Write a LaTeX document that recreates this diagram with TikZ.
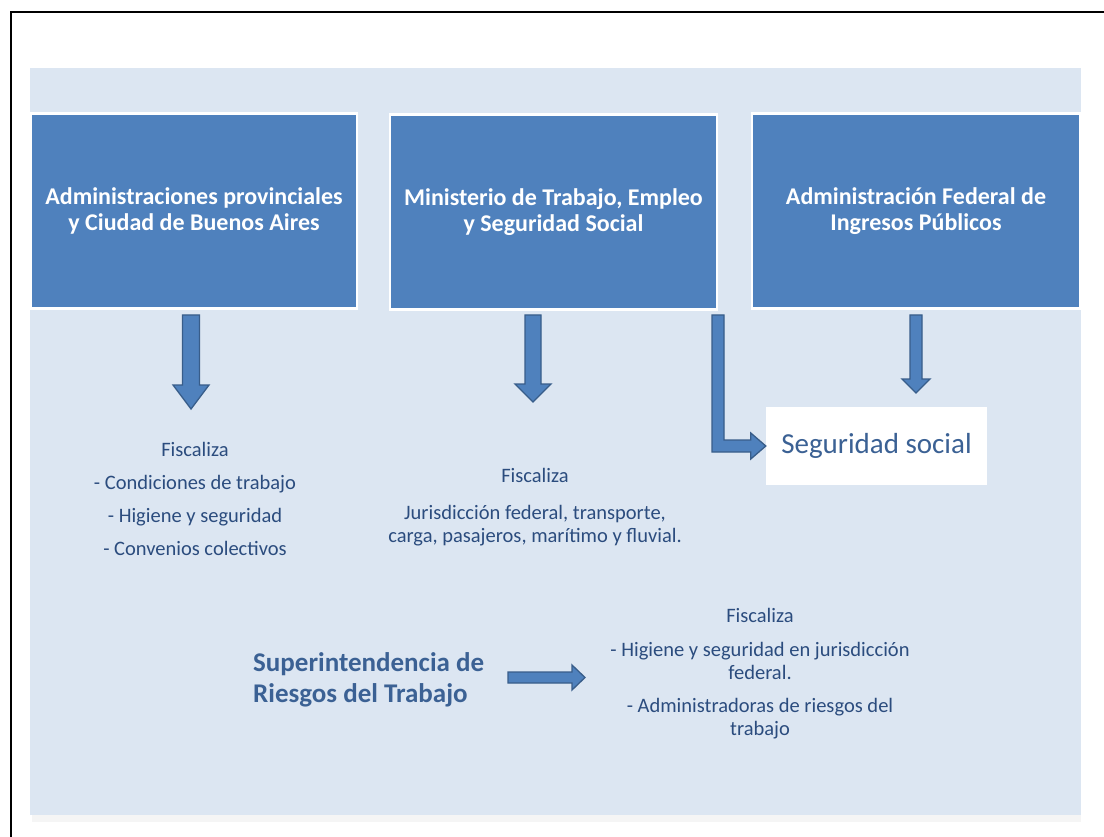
\documentclass[tikz,border=0pt]{standalone}
\usepackage{fontspec}
\setmainfont{Carlito}
\usetikzlibrary{calc}
\definecolor{panel}{HTML}{DCE6F2}
\definecolor{boxblue}{HTML}{4F81BD}
\definecolor{arrowline}{HTML}{385D8A}
\definecolor{txtblue}{HTML}{2B4C7E}
\definecolor{headblue}{HTML}{3B6194}
% vertical block arrow: #1 start, #2 tip, #3 half shaft, #4 half head, #5 head length
\newcommand\vblockarrow[5]{%
  \draw[barrow] ($(#1)+(-#3,0)$) -- ($(#2)+(-#3,-#5)$) -- ($(#2)+(-#4,-#5)$) -- (#2)
    -- ($(#2)+(#4,-#5)$) -- ($(#2)+(#3,-#5)$) -- ($(#1)+(#3,0)$) -- cycle;}
% horizontal block arrow (to the right)
\newcommand\hblockarrow[5]{%
  \draw[barrow] ($(#1)+(0,-#3)$) -- ($(#2)+(-#5,-#3)$) -- ($(#2)+(-#5,-#4)$) -- (#2)
    -- ($(#2)+(-#5,#4)$) -- ($(#2)+(-#5,#3)$) -- ($(#1)+(0,#3)$) -- cycle;}
\begin{document}
\begin{tikzpicture}[x=1pt,y=-1pt,
  topbox/.style={draw=white, line width=2.5pt, fill=boxblue, text=white,
    font=\fontsize{24}{26.5}\selectfont\bfseries, align=center, inner sep=0pt,
    minimum height=195pt},
  bodytext/.style={text=txtblue, align=center, inner sep=0pt},
  barrow/.style={fill=boxblue, draw=arrowline, line width=1.3pt, line join=miter}]
\useasboundingbox (0,0) rectangle (1104,837);
\fill[white] (0,0) rectangle (1104,837);
\draw[line width=2.2pt] (11,838) -- (11,12) -- (1105,12);
% panel
\fill[black!4] (32,815) rectangle (1081,822);
\fill[panel] (30,68) rectangle (1081,815);
% top boxes
\node[topbox, minimum width=326pt] (b1) at (194,211) {Administraciones provinciales\\y Ciudad de Buenos Aires};
\node[topbox, minimum width=327pt] (b2) at (553.5,212) {Ministerio de Trabajo, Empleo\\y Seguridad Social};
\node[topbox, minimum width=328pt] (b3) at (916,211) {Administración Federal de\\Ingresos Públicos};
% seguridad social
\node[fill=white, minimum width=221pt, minimum height=78pt, inner sep=0pt, text=headblue,
  font=\fontsize{29}{32}\selectfont] (ss) at (876.5,446) {Seguridad social};
% texts
\node[bodytext, font=\fontsize{20.5}{33}\selectfont] (t1) at (195,498.5)
  {Fiscaliza\\- Condiciones de trabajo\\- Higiene y seguridad\\- Convenios colectivos};
\node[bodytext, font=\fontsize{20.5}{23}\selectfont] (t2) at (535,507)
  {Fiscaliza\\[14pt]Jurisdicción federal, transporte,\\carga, pasajeros, marítimo y fluvial.};
\node[bodytext, font=\fontsize{20.5}{23}\selectfont] (t3) at (760,674)
  {Fiscaliza\\[11pt]- Higiene y seguridad en jurisdicción\\federal.\\[10pt]- Administradoras de riesgos del\\trabajo};
\node[text=headblue, align=left, anchor=west, inner sep=0pt,
  font=\fontsize{27}{31}\selectfont\bfseries] (srt) at (253,680)
  {Superintendencia de\\Riesgos del Trabajo};
% arrows
\coordinate (a1s) at (191,315);
\coordinate (a1e) at (191,409);
\vblockarrow{a1s}{a1e}{8.5}{18}{24}
\coordinate (a2s) at (533,315);
\coordinate (a2e) at (533,402);
\vblockarrow{a2s}{a2e}{8}{18}{18}
\coordinate (a4s) at (916,315);
\coordinate (a4e) at (916,393);
\vblockarrow{a4s}{a4e}{6}{14}{14}
\coordinate (a5s) at (508,677.5);
\coordinate (a5e) at (585,677.5);
\hblockarrow{a5s}{a5e}{5.5}{12.5}{13}
% L-shaped arrow from b2 to ss
\coordinate (a3s) at (718,315);
\coordinate (a3c) at (718,446);
\coordinate (a3e) at (ss.west |- a3c);
\draw[barrow] ($(a3s)+(-6,0)$) -- ($(a3c)+(-6,6)$) -- ($(a3e)+(-15,6)$) -- ($(a3e)+(-15,13)$)
  -- (a3e) -- ($(a3e)+(-15,-13)$) -- ($(a3e)+(-15,-6)$) -- ($(a3c)+(6,-6)$) -- ($(a3s)+(6,0)$) -- cycle;
\end{tikzpicture}
\end{document}
